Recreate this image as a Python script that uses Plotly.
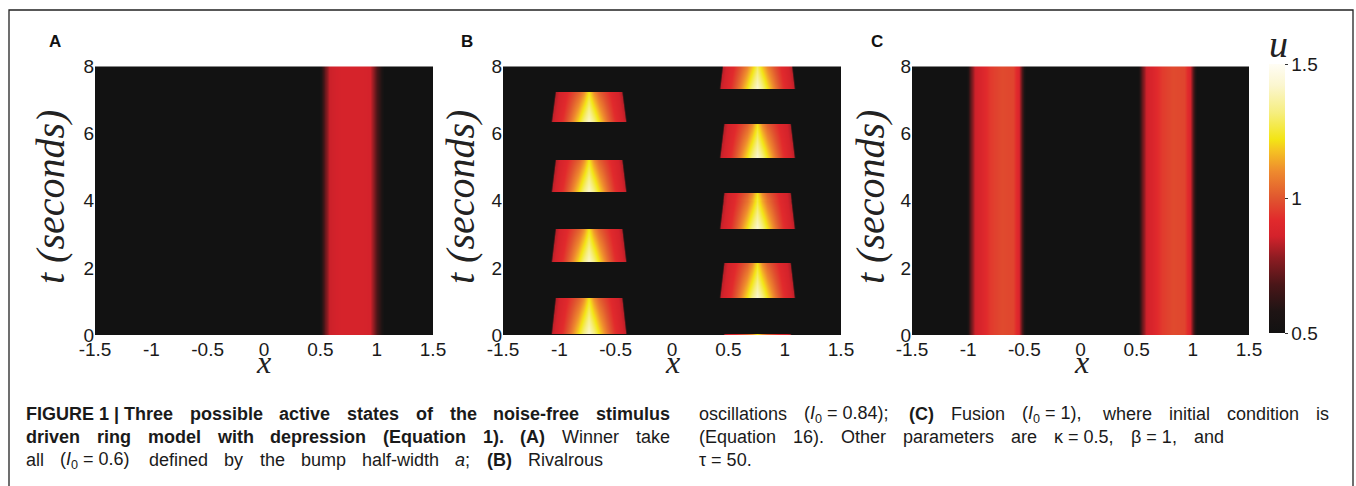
import re
import numpy as np
import plotly.graph_objects as go

# ---------------- data ----------------
X_TICKS = [-1.5, -1, -0.5, 0, 0.5, 1, 1.5]
X_TICK_TEXT = ["-1.5", "-1", "-0.5", "0", "0.5", "1", "1.5"]
T_TICKS = [0, 2, 4, 6, 8]
T_TICK_TEXT = ["0", "2", "4", "6", "8"]
U_TICKS = [0.5, 1, 1.5]
U_TICK_TEXT = ["0.5", "1", "1.5"]

U_REST = 0.45          # resting activity (below colour range -> black)

# Panel A: winner take all, one stationary bump (profile read across x)
A_PROFILE_X = [0.40, 0.49, 0.54, 0.58, 0.70, 0.85, 0.94, 0.97, 1.00, 1.04, 1.08]
A_PROFILE_U = [0.45, 0.50, 0.72, 0.85, 0.87, 0.87, 0.86, 0.78, 0.68, 0.58, 0.45]

# Panel B: rivalrous oscillations (alternating bumps)
B_LEFT_CENTER = -0.74
B_RIGHT_CENTER = 0.755
B_LEFT_ON = [0.05, 2.18, 4.24, 6.33]
B_LEFT_OFF = [1.13, 3.19, 5.22, 7.25]
B_RIGHT_ON = [-0.95, 1.13, 3.19, 5.28, 7.34]
B_RIGHT_OFF = [0.05, 2.15, 4.21, 6.27, 8.35]
B_HALFWIDTH_ON = 0.325
B_HALFWIDTH_OFF = 0.29
B_R = [0.0, 0.15, 0.3, 0.5, 0.7, 0.9, 1.0, 1.06]
B_U_ON = [1.42, 1.32, 1.20, 1.06, 0.94, 0.87, 0.84, 0.45]
B_U_OFF = [1.22, 1.10, 1.02, 0.96, 0.90, 0.86, 0.82, 0.45]

# Panel C: fusion, two stationary bumps
C_CENTERS = [-0.745, 0.775]
C_OFFSET = [-0.27, -0.23, -0.19, -0.14, -0.05, 0.05, 0.15, 0.20, 0.235, 0.27]
C_U = [0.45, 0.70, 0.85, 0.88, 0.95, 0.98, 0.97, 0.88, 0.65, 0.45]

COLORSCALE = [
    [0.00, "#121212"], [0.08, "#1e1414"], [0.18, "#4a1618"], [0.28, "#8e1c22"],
    [0.36, "#d4222b"], [0.42, "#e12a2c"], [0.50, "#e0552f"], [0.60, "#ee8a2e"],
    [0.68, "#f5c422"], [0.72, "#f3e515"], [0.82, "#f6ee80"], [0.92, "#fbf6cf"],
    [1.00, "#fffdf5"],
]

# caption lines: list of (html, bold)
CAP_LEFT = [
    [("FIGURE 1 | Three", 1), ("possible", 1), ("active", 1), ("states", 1), ("of", 1),
     ("the", 1), ("noise-free", 1), ("stimulus", 1)],
    [("driven", 1), ("ring", 1), ("model", 1), ("with", 1), ("depression", 1),
     ("(Equation", 1), ("1).", 1), ("(A)", 1), ("Winner", 0), ("take", 0)],
    [("all", 0), ("(<i>I</i><sub>0</sub> = 0.6)", 0), ("defined", 0), ("by", 0), ("the", 0),
     ("bump", 0), ("half-width", 0), ("<i>a</i>;", 0), ("(B)", 1), ("Rivalrous", 0)],
]
CAP_RIGHT = [
    [("oscillations", 0), ("(<i>I</i><sub>0</sub> = 0.84);", 0), ("(C)", 1), ("Fusion", 0),
     ("(<i>I</i><sub>0</sub> = 1),", 0), ("where", 0), ("initial", 0), ("condition", 0), ("is", 0)],
    [("(Equation", 0), ("16).", 0), ("Other", 0), ("parameters", 0), ("are", 0),
     ("κ = 0.5,", 0), ("β = 1,", 0), ("and", 0)],
    [("τ = 50.", 0)],
]

# ---------------- build fields ----------------
X = np.linspace(-1.5, 1.5, 339)
T = np.linspace(0, 8, 269)

zA = np.tile(np.interp(X, A_PROFILE_X, A_PROFILE_U, left=U_REST, right=U_REST), (len(T), 1))

zB = np.full((len(T), len(X)), U_REST)
def add_bumps(center, ons, offs):
    for on, off in zip(ons, offs):
        rows = np.where((T >= on) & (T <= off))[0]
        for i in rows:
            f = (T[i] - on) / (off - on)
            w = B_HALFWIDTH_ON + (B_HALFWIDTH_OFF - B_HALFWIDTH_ON) * f
            r = np.abs(X - center) / w
            u = ((1 - f) * np.interp(r, B_R, B_U_ON, right=U_REST)
                 + f * np.interp(r, B_R, B_U_OFF, right=U_REST))
            zB[i] = np.maximum(zB[i], u)
add_bumps(B_LEFT_CENTER, B_LEFT_ON, B_LEFT_OFF)
add_bumps(B_RIGHT_CENTER, B_RIGHT_ON, B_RIGHT_OFF)

profC = np.full(len(X), U_REST)
for c in C_CENTERS:
    profC = np.maximum(profC, np.interp(X - c, C_OFFSET, C_U, left=U_REST, right=U_REST))
zC = np.tile(profC, (len(T), 1))

# ---------------- figure ----------------
W, H = 1356, 486
def px(x): return x / W
def py(y): return 1 - y / H

TICK_FONT = dict(family="Liberation Sans, Arial, sans-serif", size=19, color="#1a1a1a")
SERIF = "Liberation Serif, Times New Roman, serif"

fig = go.Figure()
panels = [(95, 433, zA), (503, 841, zB), (912, 1249, zC)]
layout_axes = {}
for k, (x0, x1, z) in enumerate(panels):
    sfx = "" if k == 0 else str(k + 1)
    fig.add_trace(go.Heatmap(x=X, y=T, z=np.round(z, 3), coloraxis="coloraxis",
                             xaxis="x" + sfx, yaxis="y" + sfx, zsmooth=False,
                             hoverinfo="skip"))
    layout_axes["xaxis" + sfx] = dict(
        domain=[px(x0), px(x1)], anchor="y" + sfx, range=[-1.5, 1.5],
        tickvals=X_TICKS, ticktext=X_TICK_TEXT, showgrid=False, zeroline=False,
        showline=False, ticks="", tickfont=TICK_FONT, fixedrange=True,
        ticklabelstandoff=1)
    layout_axes["yaxis" + sfx] = dict(
        domain=[py(335), py(66.5)], anchor="x" + sfx, range=[0, 8],
        tickvals=T_TICKS, ticktext=T_TICK_TEXT, showgrid=False, zeroline=False,
        showline=False, ticks="", tickfont=TICK_FONT, fixedrange=True)

fig.update_layout(
    width=W, height=H, margin=dict(l=0, r=0, t=0, b=0, autoexpand=False),
    paper_bgcolor="white", plot_bgcolor="white", showlegend=False,
    coloraxis=dict(
        colorscale=COLORSCALE, cmin=0.5, cmax=1.5,
        colorbar=dict(x=px(1269), xanchor="left", y=py(64), yanchor="top",
                      lenmode="pixels", len=269, thicknessmode="pixels", thickness=16,
                      xpad=0, ypad=0, outlinewidth=0, tickvals=U_TICKS, ticktext=U_TICK_TEXT,
                      ticks="outside", ticklen=3, tickcolor="#333", tickfont=TICK_FONT)),
    **layout_axes,
)

ann = []
# panel letters
for lab, x in [("A", 55), ("B", 467), ("C", 877)]:
    ann.append(dict(text="<b>" + lab + "</b>", x=px(x), y=py(41), xanchor="center", yanchor="middle",
                    font=dict(family="Liberation Sans, Arial", size=17, color="#111")))
# axis titles
for xt, xl in [(50, 263), (460, 672), (870, 1081)]:
    ann.append(dict(text="<i>t (seconds)</i>", x=px(xt), y=py(197), textangle=-90,
                    xanchor="center", yanchor="middle", font=dict(family=SERIF, size=40, color="#222")))
    ann.append(dict(text="<i>x</i>", x=px(xl), y=py(362), xanchor="center", yanchor="middle",
                    font=dict(family=SERIF, size=32, color="#222")))
ann.append(dict(text="<i>u</i>", x=px(1278), y=py(44), xanchor="center", yanchor="middle",
                font=dict(family=SERIF, size=38, color="#222")))

# caption with justified lines (word placement from approximate Helvetica metrics)
CAP_FONT = "Liberation Sans, Arial, sans-serif"
CAP_SIZE = 18
REGW = {}
for chars, w in [("ijl'", 222), (" !,./:;I[]ft", 278), ("()-r", 333), ("ckvxyzsJ", 500),
                 ("abdeghnopqu0123456789L", 556), ("=+", 584), ("FTZ", 611), ("ABEKPSVXY", 667),
                 ("CDHNRUw", 722), ("GOQ", 778), ("mM", 833), ("W", 944), ("|", 260),
                 ("κ", 520), ("β", 560), ("τ", 450)]:
    for ch in chars:
        REGW[ch] = w
BOLDW = {}
for chars, w in [("ijl' !,.:;I", 278), ("ft()-", 333), ("r", 389), ("acekvxysJ0123456789", 556),
                 ("z", 500), ("bdghnopquFTZL", 611), ("=", 584), ("ES", 667),
                 ("ABCDHKNRUVXYP", 722), ("GOQw", 778), ("m", 889), ("M", 833), ("W", 944), ("|", 280)]:
    for ch in chars:
        BOLDW[ch] = w

def tw(html, bold):
    s = re.sub(r"<[^>]+>", "", html)
    tab = BOLDW if bold else REGW
    return sum(tab.get(ch, 556) for ch in s) / 1000 * CAP_SIZE

def caption(lines, left, rights, ys):
    for words, right, y in zip(lines, rights, ys):
        widths = [tw(w, b) for w, b in words]
        n = len(words)
        gap = (right - left - sum(widths)) / (n - 1) if (n > 1 and right) else 0
        x = left
        for (w, b), wd in zip(words, widths):
            ann.append(dict(text=("<b>%s</b>" % w) if b else w, x=px(x), y=py(y),
                            xanchor="left", yanchor="middle",
                            font=dict(family=CAP_FONT, size=CAP_SIZE, color="#1a1a1a")))
            x += wd + gap

caption(CAP_LEFT, 24, [668, 668, 601], [414, 437, 460])
caption(CAP_RIGHT, 697, [1327, 1222, None], [414, 437, 460])

for a in ann:
    a.update(xref="paper", yref="paper", showarrow=False)
fig.update_layout(annotations=ann)

fig.add_shape(type="rect", xref="paper", yref="paper", x0=px(9), x1=px(1353),
              y0=-0.2, y1=py(10), line=dict(color="#222", width=1.3))

fig.write_html("out.html")
